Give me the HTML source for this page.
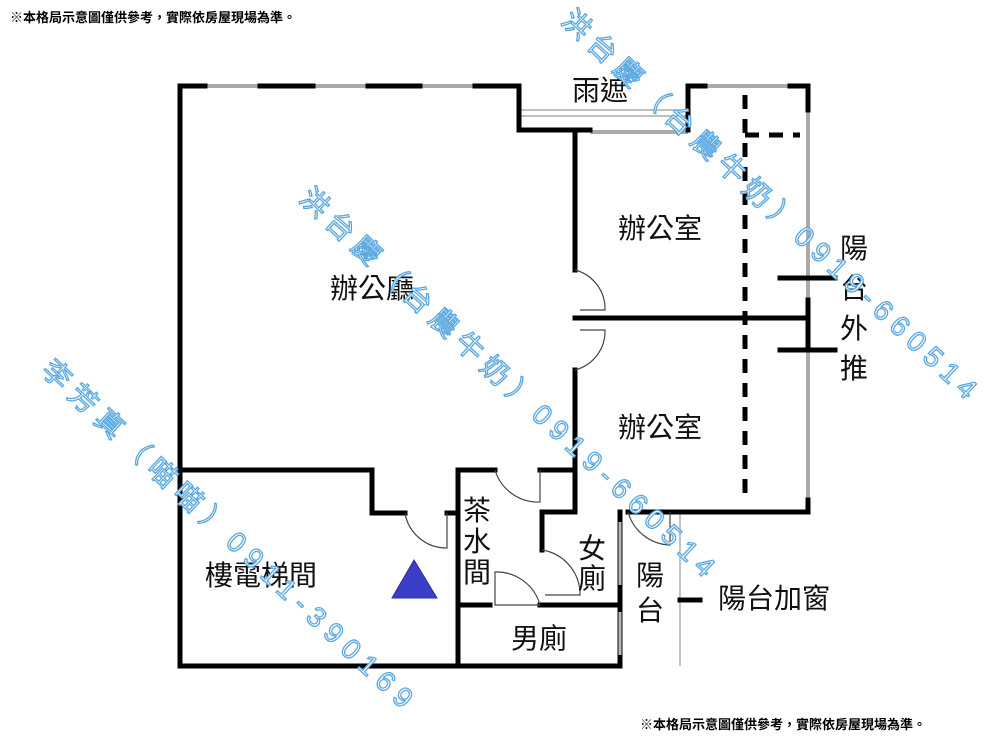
<!DOCTYPE html>
<html><head><meta charset="utf-8"><style>
html,body{margin:0;padding:0;background:#fff;width:1000px;height:750px;overflow:hidden}
svg{display:block}
text{font-family:"Liberation Sans","Noto Sans CJK TC",sans-serif}
</style></head><body>
<svg width="1000" height="750" viewBox="0 0 1000 750" xmlns="http://www.w3.org/2000/svg">
<rect width="1000" height="750" fill="#fff"/>
<text x="10" y="22" font-size="13" font-weight="bold" fill="#000">※本格局示意圖僅供參考，實際依房屋現場為準。</text>
<text x="640" y="729" font-size="13" font-weight="bold" fill="#000">※本格局示意圖僅供參考，實際依房屋現場為準。</text>

<g fill="none" stroke="#aaa" stroke-width="4">
 <line x1="205" y1="86" x2="260" y2="86"/><line x1="313" y1="86" x2="368" y2="86"/><line x1="420" y1="86" x2="475" y2="86"/>
 <line x1="705" y1="86" x2="790" y2="86"/>
 <line x1="590" y1="132" x2="688" y2="132"/>
 <line x1="808" y1="110" x2="808" y2="300"/><line x1="808" y1="345" x2="808" y2="500"/>
</g>
<g fill="none" stroke="#999" stroke-width="1.2">
 <line x1="519" y1="110" x2="688" y2="110"/><line x1="519" y1="116" x2="688" y2="116"/>
 <line x1="680" y1="512" x2="680" y2="666"/>
</g>

<g fill="none" stroke="#000" stroke-width="5" stroke-linecap="square">
 <polyline points="180,666 180,86 205,86"/>
 <line x1="260" y1="86" x2="313" y2="86"/><line x1="368" y1="86" x2="420" y2="86"/>
 <polyline points="475,86 519,86 519,130 590,130"/>
 <polyline points="688,130 688,86 705,86"/>
 <polyline points="790,86 808,86 808,110"/>
 <line x1="808" y1="300" x2="808" y2="345"/>
 <polyline points="808,500 808,512 628,512"/>
 <line x1="180" y1="666" x2="620" y2="666"/>
 <line x1="575" y1="130" x2="575" y2="270"/>
 <line x1="575" y1="318" x2="808" y2="318"/>
 <polyline points="575,370 575,512 542,512 542,550"/>
 <polyline points="180,470 372,470 372,513 405,513"/>
 <line x1="447" y1="513" x2="458" y2="513"/>
 <polyline points="458,666 458,470 495,470"/>
 <polyline points="540,470 575,470"/>
 <line x1="458" y1="605" x2="490" y2="605"/>
 <polyline points="540,605 620,605"/>
 <line x1="620" y1="512" x2="620" y2="666"/>
 <line x1="680" y1="600" x2="700" y2="600"/>
 <line x1="780" y1="278" x2="835" y2="278"/>
 <line x1="780" y1="350" x2="835" y2="350"/>
</g>
<g fill="none" stroke="#bbb" stroke-width="3">
 <line x1="620" y1="522" x2="620" y2="585"/><line x1="620" y1="612" x2="620" y2="655"/>
</g>
<g fill="none" stroke="#000" stroke-width="5" stroke-dasharray="14,10">
 <line x1="745" y1="95" x2="745" y2="500"/>
 <line x1="745" y1="135" x2="800" y2="135"/>
</g>
<g fill="none" stroke="#444" stroke-width="1.2">
 <path d="M575,270 A40,40 0 0 1 605,310 L580,310"/>
 <path d="M575,330 A40,40 0 0 1 605,370 L580,370" transform="matrix(1,0,0,-1,0,700)"/>
 <path d="M405,513 A42,42 0 0 0 447,548 L447,513"/>
 <path d="M495,470 A45,45 0 0 0 540,502 L540,470"/>
 <path d="M542,550 A45,45 0 0 1 580,595 L545,595"/>
 <path d="M495,572 A45,45 0 0 1 540,605 L495,605 Z"/>
 <path d="M628,512 A45,45 0 0 0 670,545 L670,512"/>
</g>
<polygon points="414,560 392,598 437,598" fill="#3a3ec8" stroke="#2a2e9a"/>

<g font-size="28" fill="#111">
 <text x="618" y="238">辦公室</text>
 <text x="618" y="437">辦公室</text>
 <text x="330" y="298">辦公廳</text>
 <text x="205" y="585">樓電梯間</text>
 <text x="511" y="648">男廁</text>
 <text x="572" y="100">雨遮</text>
 <text x="718" y="608">陽台加窗</text>
 <text x="578" y="558">女</text><text x="578" y="588">廁</text>
 <text x="463" y="520">茶</text><text x="463" y="551">水</text><text x="463" y="582">間</text>
 <text x="636" y="585">陽</text><text x="636" y="620">台</text>
 <text x="840" y="258">陽</text><text x="840" y="298">台</text><text x="840" y="338">外</text><text x="840" y="378">推</text>
</g>

<g font-size="28" fill="#fff" stroke="#5aa8e0" stroke-width="1.3">
 <text transform="translate(40,372) rotate(43)" textLength="495" lengthAdjust="spacing">李芳真（喵喵）0911-390169</text>
 <text transform="translate(298,200) rotate(43)" textLength="555" lengthAdjust="spacing">洪台慶（台農牛奶）0919-660514</text>
 <text transform="translate(560,22) rotate(43)" textLength="555" lengthAdjust="spacing">洪台慶（台農牛奶）0919-660514</text>
</g>
</svg>
</body></html>
